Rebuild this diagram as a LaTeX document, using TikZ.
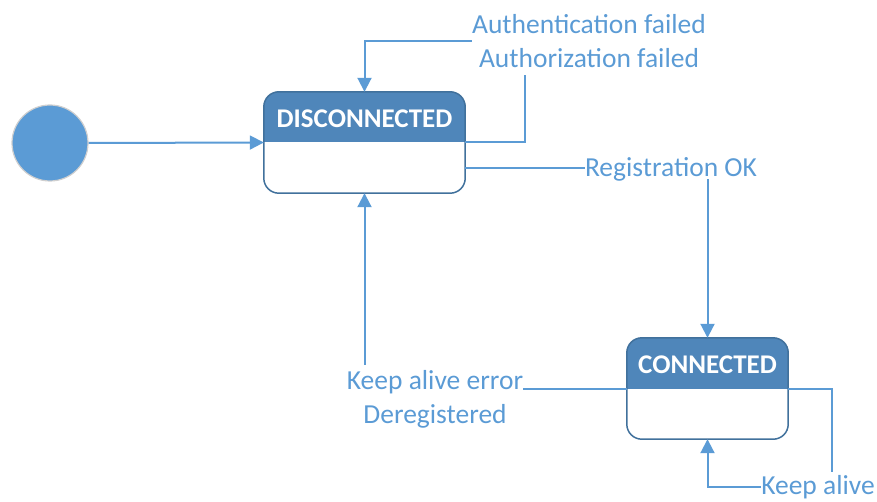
\documentclass[tikz,border=0pt]{standalone}
\usepackage{fontspec}
\setmainfont{Carlito}
\usetikzlibrary{arrows.meta,calc}
\definecolor{lineblue}{HTML}{5B9BD5}
\definecolor{headblue}{HTML}{4F86BA}
\definecolor{borderblue}{HTML}{41719C}
\definecolor{circborder}{HTML}{CFCFCF}
\tikzset{
  statebox/.style={minimum width=201pt, minimum height=101pt, inner sep=0pt},
  conn/.style={draw=lineblue, line width=2pt},
  arr/.style={conn, -{Triangle[length=14pt,width=14pt]}},
  lbl/.style={text=lineblue, font=\fontsize{27.5}{34}\selectfont, align=center, inner sep=0pt},
  headtxt/.style={text=white, font=\fontsize{27}{30}\selectfont\bfseries, inner sep=0pt},
}
\newcommand{\statedraw}[2]{%
  \begin{scope}
    \clip[rounded corners=15pt] (#1.south west) rectangle (#1.north east);
    \fill[white] (#1.south west) rectangle (#1.north east);
    \fill[headblue] (#1.north west) rectangle (#1.east);
  \end{scope}
  \draw[borderblue, line width=1.5pt, rounded corners=15pt] (#1.south west) rectangle (#1.north east);
  \node[headtxt] (#1-title) at ($(#1.north)!0.5!(#1.center)+(0,2)$) {#2};
}
\begin{document}
\begin{tikzpicture}[x=1pt,y=-1pt]
  \useasboundingbox (0,0) rectangle (877,502);
  % nodes
  \node[circle, fill=lineblue, draw=circborder, line width=1.2pt, minimum size=76pt, inner sep=0pt] (start) at (50,143) {};
  \node[statebox] (disc) at (364.5,142.5) {};
  \node[statebox, minimum width=161pt] (conn) at (707.5,388.5) {};
  \statedraw{disc}{DISCONNECTED}
  \statedraw{conn}{CONNECTED}
  \node[lbl, minimum height=68pt] (authl) at (589,41) {Authentication failed\\Authorization failed};
  \node[lbl] (regl) at (671,169) {Registration OK};
  \node[lbl, minimum height=68pt] (kael) at (435,399) {Keep alive error\\Deregistered};
  \node[lbl, minimum height=30pt] (kal) at (818,487) {Keep alive};
  \coordinate (a1) at (525,142.5);
  \coordinate (r0) at ($(disc.east)+(0,25.5)$);
  \coordinate (k1) at (832,388.5);
  % connectors
  \draw[arr] (start.east) -- (disc.west);
  \draw[conn] (disc.east) -- (a1) -- (a1 |- authl.south);
  \draw[arr] (authl.west) -| (disc.north);
  \draw[conn] (r0) -- (r0 -| regl.west);
  \draw[arr] ([yshift=2pt]regl.south -| conn.north) -- (conn.north);
  \draw[conn] (conn.west) -- (conn.west -| kael.east);
  \draw[arr] (kael.north -| disc.south) -- (disc.south);
  \draw[conn] (conn.east) -- (k1) -- (k1 |- kal.north);
  \draw[arr] (kal.west) -| (conn.south);
\end{tikzpicture}
\end{document}
